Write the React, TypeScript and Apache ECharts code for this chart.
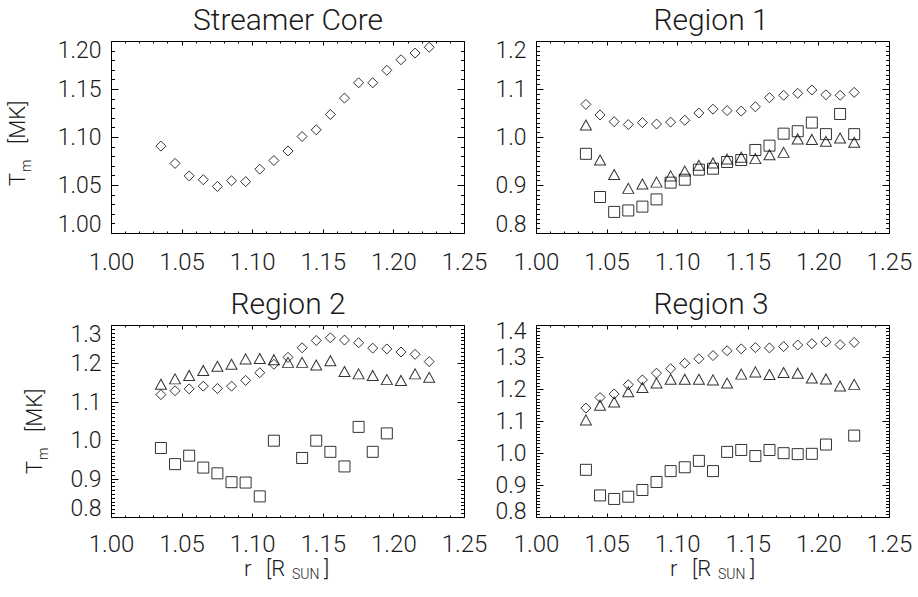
import React, { useEffect, useRef } from "react";
import * as echarts from "echarts";

// radial distance (R_sun)
const R = [1.035, 1.045, 1.055, 1.065, 1.075, 1.085, 1.095, 1.105, 1.115, 1.125,
  1.135, 1.145, 1.155, 1.165, 1.175, 1.185, 1.195, 1.205, 1.215, 1.225];

// tick labels
const X_LABELS = ["1.00", "1.05", "1.10", "1.15", "1.20", "1.25"];
const Y_LABELS_CORE = ["1.00", "1.05", "1.10", "1.15", "1.20"];
const Y_LABELS_R1 = ["0.8", "0.9", "1.0", "1.1", "1.2"];
const Y_LABELS_R2 = ["0.8", "0.9", "1.0", "1.1", "1.2", "1.3"];
const Y_LABELS_R3 = ["0.8", "0.9", "1.0", "1.1", "1.2", "1.3", "1.4"];

// Streamer core
const coreDiamond = [1.091, 1.073, 1.060, 1.056, 1.049, 1.055, 1.054, 1.067, 1.076, 1.086,
  1.101, 1.108, 1.124, 1.141, 1.157, 1.157, 1.170, 1.181, 1.188, 1.194];

// Region 1
const r1Diamond = [1.069, 1.047, 1.033, 1.027, 1.031, 1.028, 1.032, 1.036, 1.051, 1.059,
  1.056, 1.055, 1.064, 1.083, 1.088, 1.092, 1.099, 1.089, 1.088, 1.094];
const r1Triangle = [1.026, 0.953, 0.923, 0.894, 0.903, 0.907, 0.920, 0.930, 0.942, 0.947,
  0.955, 0.959, 0.956, 0.964, 0.969, 0.997, 0.996, 0.992, 0.999, 0.990];
const r1Square = [0.966, 0.876, 0.845, 0.848, 0.856, 0.871, 0.906, 0.912, 0.933, 0.935,
  0.949, 0.953, 0.974, 0.983, 1.008, 1.013, 1.031, 1.007, 1.049, 1.007];

// Region 2
const r2Diamond = [1.120, 1.130, 1.135, 1.142, 1.136, 1.142, 1.157, 1.177, 1.199, 1.217,
  1.242, 1.261, 1.268, 1.262, 1.255, 1.241, 1.239, 1.231, 1.225, 1.206];
const r2Triangle = [1.147, 1.161, 1.170, 1.183, 1.194, 1.199, 1.213, 1.214, 1.211, 1.204,
  1.204, 1.197, 1.208, 1.180, 1.174, 1.170, 1.159, 1.157, 1.174, 1.165];
const r2Square = [0.981, 0.939, 0.961, 0.930, 0.915, 0.892, 0.891, 0.855, 1.000, null,
  0.955, 1.000, 0.971, 0.933, 1.036, 0.971, 1.019, null, null, null];

// Region 3
const r3Diamond = [1.142, 1.175, 1.186, 1.215, 1.230, 1.251, 1.265, 1.282, 1.296, 1.306,
  1.321, 1.327, 1.331, 1.330, 1.334, 1.339, 1.343, 1.349, 1.340, 1.347];
const r3Triangle = [1.105, 1.151, 1.161, 1.193, 1.206, 1.220, 1.232, 1.232, 1.232, 1.230,
  1.220, 1.248, 1.255, 1.247, 1.253, 1.251, 1.236, 1.233, 1.211, 1.216];
const r3Square = [0.949, 0.869, 0.858, 0.865, 0.886, 0.911, 0.945, 0.957, 0.977, 0.945,
  1.005, 1.011, 0.992, 1.011, 1.001, 0.998, 0.999, 1.028, null, 1.056];

const TITLES = ["Streamer Core", "Region 1", "Region 2", "Region 3"];

const FONT = "Roboto, 'DejaVu Sans', sans-serif";
const INK = "#000";
const TXT = "#1a1a1a";
const FW = 300;

const pairs = (ys: (number | null)[]) =>
  ys.map((y, i) => [R[i], y]).filter((p) => p[1] !== null);

export default function App() {
  const ref = useRef<HTMLDivElement>(null);
  useEffect(() => {
    document.body.style.margin = "0";
    document.body.style.overflow = "hidden";
    if (!ref.current) return;
    const chart = echarts.init(ref.current, undefined, { renderer: "svg" });

    const grids = [
      { left: 111.5, top: 41.5, width: 353, height: 192 },
      { left: 536.5, top: 41.5, width: 353, height: 192 },
      { left: 111.5, top: 325.5, width: 353, height: 192 },
      { left: 536.5, top: 325.5, width: 353, height: 192 },
    ].map((g) => ({ ...g, show: true, borderColor: INK, borderWidth: 1, backgroundColor: "transparent" }));

    const yLabelSets = [Y_LABELS_CORE, Y_LABELS_R1, Y_LABELS_R2, Y_LABELS_R3];
    const xMin = parseFloat(X_LABELS[0]);
    const xMax = parseFloat(X_LABELS[X_LABELS.length - 1]);
    const xStep = parseFloat(X_LABELS[1]) - xMin;

    const xAxes: any[] = [];
    const yAxes: any[] = [];
    yLabelSets.forEach((labs, i) => {
      xAxes.push({
        type: "value",
        gridIndex: i,
        position: "bottom",
        min: xMin,
        max: xMax,
        interval: xStep,
        axisLine: { show: false },
        axisTick: { show: false },
        minorTick: { show: false },
        splitLine: { show: false },
        axisLabel: {
          show: true,
          margin: i < 2 ? 16 : 14,
          color: TXT,
          fontFamily: FONT,
          fontSize: 24,
          fontWeight: FW,
          showMinLabel: true,
          showMaxLabel: true,
          formatter: (v: number) => v.toFixed(2),
        },
      });
      const yMin = parseFloat(labs[0]);
      const yMax = parseFloat(labs[labs.length - 1]);
      yAxes.push({
        type: "value",
        gridIndex: i,
        position: "left",
        min: yMin,
        max: yMax,
        interval: parseFloat(labs[1]) - yMin,
        axisLine: { show: false },
        axisTick: { show: false },
        minorTick: { show: false },
        splitLine: { show: false },
        axisLabel: { show: false },
      });
    });

    // ticks on all four sides + y tick labels, placed via the axes' own scales
    const furniture = (i: number) => {
      const labs = yLabelSets[i];
      const yMin = parseFloat(labs[0]);
      const yMax = parseFloat(labs[labs.length - 1]);
      const rows: any[] = [];
      const nx = Math.round((xMax - xMin) / 0.01);
      for (let k = 0; k <= nx; k++) rows.push({ value: [xMin + k * 0.01, yMin, k % 5 === 0 ? 0 : 1], name: "" });
      const yMajor = parseFloat(labs[1]) - yMin;
      const per = Math.round(yMajor / 0.01);
      const ny = Math.round((yMax - yMin) / 0.01);
      for (let k = 0; k <= ny; k++) {
        const major = k % per === 0;
        rows.push({ value: [xMin, yMin + k * 0.01, major ? 2 : 3], name: major ? labs[k / per] : "" });
      }
      return {
        type: "custom",
        xAxisIndex: i,
        yAxisIndex: i,
        silent: true,
        clip: false,
        z: 5,
        data: rows,
        renderItem: (params: any, api: any) => {
          const x = api.value(0);
          const y = api.value(1);
          const kind = api.value(2);
          const st = { stroke: INK, lineWidth: 1, fill: null };
          const children: any[] = [];
          if (kind < 2) {
            const b = api.coord([x, yMin]);
            const t = api.coord([x, yMax]);
            const L = kind === 0 ? 4 : 2;
            const px = Math.round(b[0] - 0.5) + 0.5;
            children.push({ type: "polyline", shape: { points: [[px, b[1]], [px, b[1] - L]] }, style: st });
            children.push({ type: "polyline", shape: { points: [[px, t[1]], [px, t[1] + L]] }, style: st });
          } else {
            const l = api.coord([xMin, y]);
            const r = api.coord([xMax, y]);
            const L = kind === 2 ? 7 : 3.5;
            const py = Math.round(l[1] - 0.5) + 0.5;
            children.push({ type: "polyline", shape: { points: [[l[0], py], [l[0] + L, py]] }, style: st });
            children.push({ type: "polyline", shape: { points: [[r[0], py], [r[0] - L, py]] }, style: st });
            if (kind === 2) {
              const lab = rows[params.dataIndex].name;
              const idx = labs.indexOf(lab);
              const nb = api.coord([xMin, parseFloat(labs[idx === 0 ? 1 : idx - 1])]);
              const gap = Math.abs(nb[1] - l[1]);
              const s = Math.min(9, gap - 26);
              const shift = idx === labs.length - 1 ? s : idx === 0 ? -s : 0;
              children.push({
                type: "text",
                x: l[0] - 10,
                y: l[1] + shift,
                style: {
                  text: lab,
                  fill: TXT,
                  fontFamily: FONT,
                  fontSize: 23,
                  fontWeight: FW,
                  align: "right",
                  verticalAlign: "middle",
                },
              });
            }
          }
          return { type: "group", children };
        },
      };
    };

    const mk = (grid: number, ys: (number | null)[], kind: "diamond" | "triangle" | "square") => {
      const symbol = kind === "diamond" ? "diamond" : kind === "triangle" ? "triangle" : "rect";
      const size = kind === "diamond" ? [10, 10] : kind === "triangle" ? [11, 10] : [11, 11];
      return {
        type: "scatter",
        xAxisIndex: grid,
        yAxisIndex: grid,
        symbol,
        symbolSize: size,
        itemStyle: { color: "rgba(0,0,0,0)", borderColor: INK, borderWidth: 1 },
        emphasis: { disabled: true },
        data: pairs(ys),
      };
    };

    const series: any[] = [
      mk(0, coreDiamond, "diamond"),
      mk(1, r1Diamond, "diamond"),
      mk(1, r1Triangle, "triangle"),
      mk(1, r1Square, "square"),
      mk(2, r2Diamond, "diamond"),
      mk(2, r2Triangle, "triangle"),
      mk(2, r2Square, "square"),
      mk(3, r3Diamond, "diamond"),
      mk(3, r3Triangle, "triangle"),
      mk(3, r3Square, "square"),
      furniture(0),
      furniture(1),
      furniture(2),
      furniture(3),
    ];

    const txt = (text: string, x: number, y: number, size: number, align = "left") => ({
      type: "text",
      x,
      y,
      style: { text, fill: TXT, fontFamily: FONT, fontSize: size, fontWeight: FW, align, verticalAlign: "middle" },
    });
    // y title "T_m [MK]" in a rotated group; local origin = baseline start
    const yTitle = (x: number, y: number) => ({
      type: "group",
      x,
      y,
      rotation: Math.PI / 2,
      children: [
        txt("T", 0, -8, 22),
        txt("m", 14, 1, 14),
        txt("[MK]", 42, -8, 22),
      ],
    });
    // x title "r [R_SUN]"; origin = baseline start
    const xTitle = (x: number, y: number) => ({
      type: "group",
      x,
      y,
      children: [
        txt("r", 0, -8, 22),
        txt("[R", 22, -8, 22),
        txt("SUN", 48, -2, 14),
        txt("]", 80, -8, 22),
      ],
    });

    const graphic: any[] = [
      txt(TITLES[0], 288, 19, 30, "center"),
      txt(TITLES[1], 711, 19, 30, "center"),
      txt(TITLES[2], 288, 303, 30, "center"),
      txt(TITLES[3], 711, 303, 30, "center"),
      yTitle(25, 186),
      yTitle(42, 474),
      xTitle(244, 576),
      xTitle(670, 576),
    ];

    chart.setOption({
      animation: false,
      backgroundColor: "#fff",
      grid: grids,
      xAxis: xAxes,
      yAxis: yAxes,
      series,
      graphic,
    });
    return () => chart.dispose();
  }, []);
  return <div ref={ref} style={{ width: 918, height: 597 }} />;
}
